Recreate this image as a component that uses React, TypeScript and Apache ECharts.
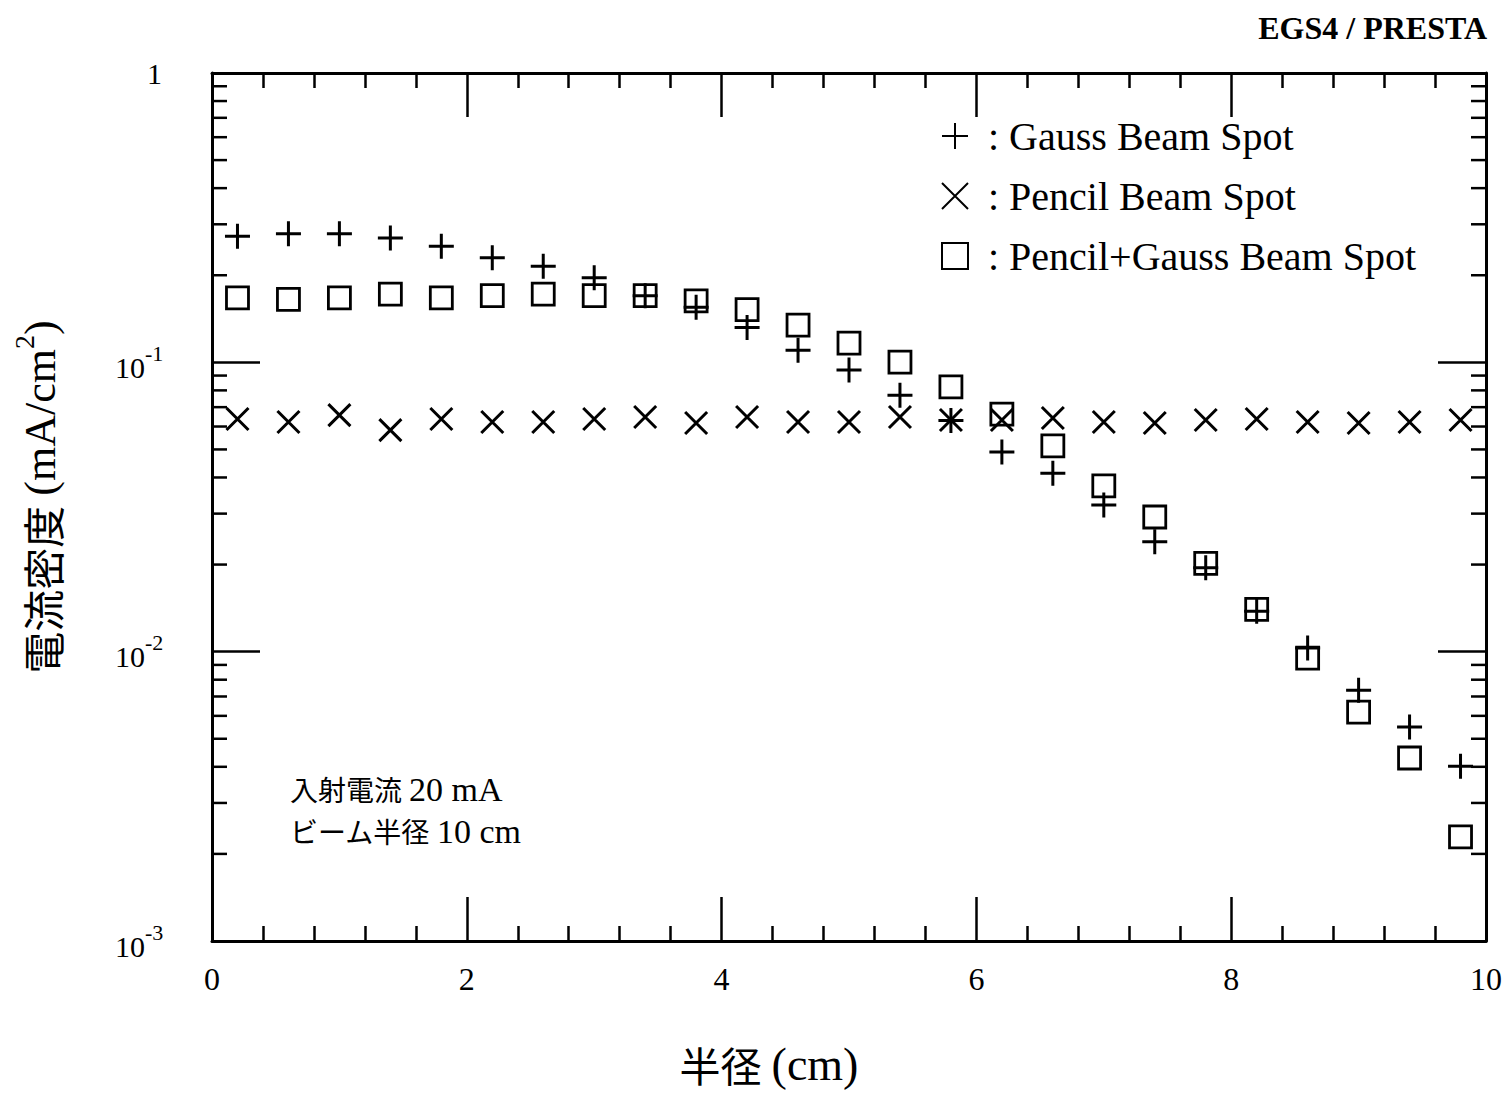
import React, { useEffect, useRef } from 'react';
import * as echarts from 'echarts';

// ---- data ----
const radius = [0.2, 0.6, 1.0, 1.4, 1.8, 2.2, 2.6, 3.0, 3.4, 3.8, 4.2, 4.6, 5.0, 5.4, 5.8, 6.2, 6.6, 7.0, 7.4, 7.8, 8.2, 8.6, 9.0, 9.4, 9.8];
const gaussBeam = [0.273, 0.278, 0.278, 0.269, 0.252, 0.230, 0.215, 0.196, 0.170, 0.155, 0.132, 0.110, 0.094, 0.077, 0.063, 0.049, 0.0414, 0.0321, 0.0240, 0.0195, 0.0138, 0.0103, 0.00736, 0.00549, 0.00402];
const pencilBeam = [0.0637, 0.0622, 0.0657, 0.0583, 0.0637, 0.0622, 0.0622, 0.0637, 0.0647, 0.0617, 0.0647, 0.0622, 0.0622, 0.0647, 0.0632, 0.0632, 0.0642, 0.0622, 0.0617, 0.0632, 0.0637, 0.0622, 0.0617, 0.0622, 0.0632];
const pencilGaussBeam = [0.167, 0.165, 0.167, 0.172, 0.167, 0.170, 0.172, 0.170, 0.170, 0.163, 0.152, 0.1345, 0.1166, 0.1002, 0.0822, 0.0662, 0.0514, 0.0374, 0.0292, 0.0202, 0.0140, 0.0095, 0.00618, 0.00429, 0.00229];
const seriesNames = ['Gauss Beam Spot', 'Pencil Beam Spot', 'Pencil+Gauss Beam Spot'];
const yMinorTickValues = [
  0.002, 0.003, 0.004, 0.005, 0.006, 0.007, 0.008, 0.009,
  0.02, 0.03, 0.04, 0.05, 0.06, 0.07, 0.08, 0.09,
  0.2, 0.3, 0.4, 0.5, 0.6, 0.7, 0.8, 0.9,
];
const titleText = 'EGS4 / PRESTA';
const noteLine1 = ['入射電流', '20 mA'];
const noteLine2 = ['ビーム半径', '10 cm'];

const SERIF = "'Liberation Serif', 'Times New Roman', serif";
const CJK = "'Noto Sans CJK JP', sans-serif";
const BLACK = '#000';

const plusPath = 'path://M0,12L24,12M12,0L12,24';
const crossPath = 'path://M0,0L20,20M20,0L0,20';

function pairs(ys: number[]) {
  return radius.map((x, i) => [x, ys[i]]);
}

function noteText(parts: string[], top: number) {
  return {
    type: 'text',
    left: 290,
    top,
    silent: true,
    style: {
      text: `{c|${parts[0]}} {l|${parts[1]}}`,
      fontFamily: SERIF,
      fontSize: 28,
      fill: BLACK,
      rich: {
        c: { fontFamily: CJK, fontSize: 28, fill: BLACK, lineHeight: 32 },
        l: { fontFamily: SERIF, fontSize: 34, fill: BLACK, lineHeight: 32 },
      },
    },
  };
}

export default function App() {
  const ref = useRef<HTMLDivElement>(null);
  useEffect(() => {
    if (!ref.current) return;
    const chart = echarts.init(ref.current, undefined, { renderer: 'svg' });
    const tickStyle = { color: BLACK, width: 2.5 };
    const xCommon = {
      type: 'value' as const,
      min: 0,
      max: 10,
      interval: 2,
      axisLine: { show: true, onZero: false, lineStyle: { color: BLACK, width: 3 } },
      axisTick: { show: true, inside: true, length: 44, lineStyle: tickStyle },
      minorTick: { show: true, splitNumber: 5, length: 15, lineStyle: tickStyle },
      splitLine: { show: false },
      minorSplitLine: { show: false },
    };
    const yCommon = {
      type: 'log' as const,
      logBase: 10,
      min: 0.001,
      max: 1,
      axisLine: { show: true, onZero: false, lineStyle: { color: BLACK, width: 3 } },
      axisTick: { show: true, inside: true, length: 48, lineStyle: tickStyle },
      splitLine: { show: false },
    };
    const markerStyle = { color: 'rgba(0,0,0,0)', borderColor: BLACK, borderWidth: 3, opacity: 1 };
    const option: any = {
      animation: false,
      backgroundColor: '#fff',
      title: {
        text: titleText,
        right: 13,
        top: 7,
        textStyle: { fontFamily: SERIF, fontWeight: 'bold', fontSize: 32, color: BLACK },
      },
      grid: { left: 212, right: 17, top: 73, bottom: 152, containLabel: false },
      legend: {
        orient: 'vertical',
        left: 936,
        top: 111,
        itemWidth: 26,
        itemHeight: 26,
        itemGap: 20,
        data: seriesNames,
        formatter: (name: string) => `{g|}: ${name}`,
        textStyle: {
          fontFamily: SERIF,
          fontSize: 40,
          lineHeight: 40,
          color: BLACK,
          rich: { g: { width: 15 } },
        },
      },
      xAxis: [
        {
          ...xCommon,
          position: 'bottom',
          axisLabel: { show: true, fontFamily: SERIF, fontSize: 32, color: BLACK, margin: 22 },
          name: '{c|半径} {l|(cm)}',
          nameLocation: 'middle',
          nameGap: 100,
          nameTextStyle: {
            color: BLACK,
            fontFamily: SERIF,
            fontSize: 40,
            padding: [0, 160, 0, 0],
            rich: {
              c: { fontFamily: CJK, fontSize: 41, color: BLACK },
              l: { fontFamily: SERIF, fontSize: 46, color: BLACK },
            },
          },
        },
        { ...xCommon, position: 'top', axisLabel: { show: false } },
      ],
      yAxis: [
        {
          ...yCommon,
          position: 'left',
          axisLabel: {
            show: true,
            align: 'left',
            margin: 97,
            formatter: (v: number) => {
              if (Math.abs(v - 1) < 1e-9) return '{one|1}';
              const e = Math.round(Math.log10(v));
              return `{b|10}{s|${e}}`;
            },
            rich: {
              one: { fontFamily: SERIF, fontSize: 30, color: BLACK, padding: [0, 0, 0, 32] },
              b: { fontFamily: SERIF, fontSize: 30, color: BLACK, lineHeight: 40, verticalAlign: 'bottom' },
              s: { fontFamily: SERIF, fontSize: 22, color: BLACK, lineHeight: 20, verticalAlign: 'top' },
            },
          },
          name: '{c|電流密度} {l|(mA/cm}{s|2}{l|)}',
          nameLocation: 'middle',
          nameGap: 150,
          nameTextStyle: {
            color: BLACK,
            fontFamily: SERIF,
            fontSize: 40,
            padding: [0, 0, 0, 20],
            rich: {
              c: { fontFamily: CJK, fontSize: 42, color: BLACK, lineHeight: 52, verticalAlign: 'bottom' },
              l: { fontFamily: SERIF, fontSize: 44, color: BLACK, lineHeight: 52, verticalAlign: 'bottom' },
              s: { fontFamily: SERIF, fontSize: 28, color: BLACK, lineHeight: 30, verticalAlign: 'top' },
            },
          },
        },
        { ...yCommon, position: 'right', axisLabel: { show: false } },
      ],
      graphic: [noteText(noteLine1, 772), noteText(noteLine2, 814)],
      series: [
        {
          name: seriesNames[0],
          type: 'scatter',
          symbol: plusPath,
          symbolSize: 25,
          data: pairs(gaussBeam),
          itemStyle: markerStyle,
          z: 3,
        },
        {
          name: seriesNames[1],
          type: 'scatter',
          symbol: crossPath,
          symbolSize: 22,
          data: pairs(pencilBeam),
          itemStyle: markerStyle,
          z: 3,
        },
        {
          name: seriesNames[2],
          type: 'scatter',
          symbol: 'rect',
          symbolSize: 22,
          data: pairs(pencilGaussBeam),
          itemStyle: { ...markerStyle, borderWidth: 2.8 },
          z: 3,
        },
        {
          name: 'yMinorTicks',
          type: 'custom',
          silent: true,
          clip: false,
          data: yMinorTickValues.map((v) => [0, v]),
          renderItem: (params: any, api: any) => {
            const p = api.coord([0, api.value(1)]);
            const cs = params.coordSys;
            const st = { stroke: BLACK, lineWidth: 2.5 };
            return {
              type: 'group',
              children: [
                { type: 'line', shape: { x1: cs.x, y1: p[1], x2: cs.x + 15, y2: p[1] }, style: st },
                { type: 'line', shape: { x1: cs.x + cs.width - 15, y1: p[1], x2: cs.x + cs.width, y2: p[1] }, style: st },
              ],
            };
          },
        },
      ],
    };
    chart.setOption(option);
    return () => chart.dispose();
  }, []);
  return (
    <div
      ref={ref}
      style={{ position: 'fixed', left: 0, top: 0, width: 1505, height: 1093, background: '#fff' }}
    />
  );
}
